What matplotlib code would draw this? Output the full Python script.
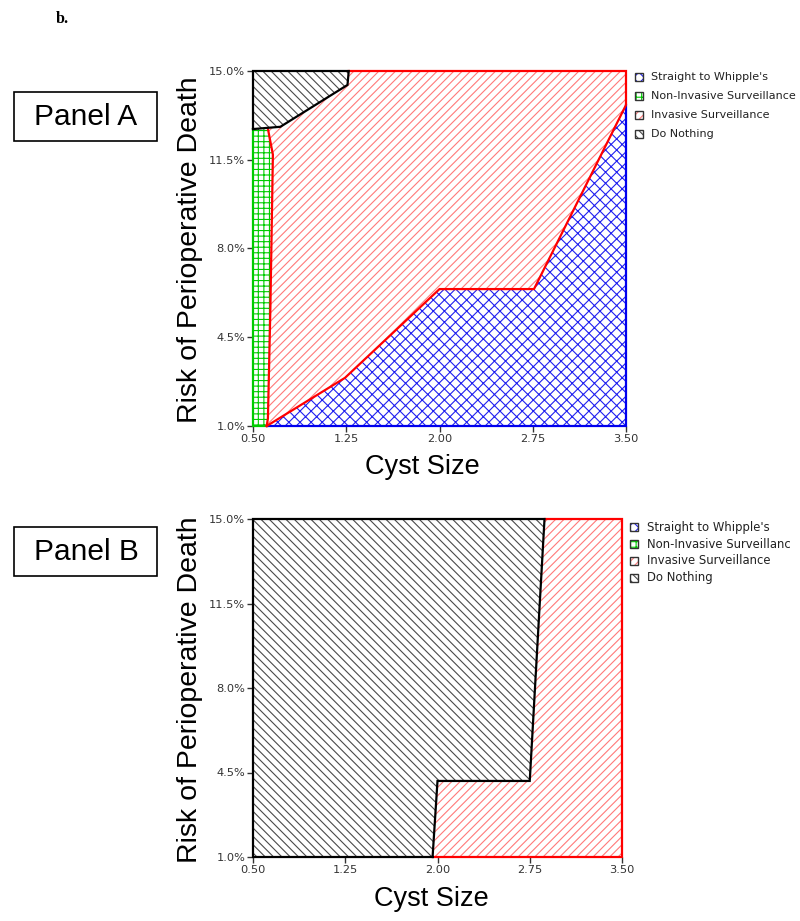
import matplotlib
matplotlib.use("Agg")
import matplotlib.pyplot as plt
from matplotlib.patches import Polygon, Rectangle

# tick positions / labels
x_ticks = [0.50, 1.25, 2.00, 2.75, 3.50]
x_tick_labels = ["0.50", "1.25", "2.00", "2.75", "3.50"]
y_ticks = [1.0, 4.5, 8.0, 11.5, 15.0]
y_tick_labels = ["1.0%", "4.5%", "8.0%", "11.5%", "15.0%"]

legend_labels = ["Straight to Whipple's", "Non-Invasive Surveillance",
                 "Invasive Surveillance", "Do Nothing"]

# Panel A boundaries (cyst size, risk %)
a_whipple_x = [0.61, 1.24, 2.00, 2.76, 3.50]          # blue / red
a_whipple_y = [1.0, 2.9, 6.4, 6.4, 13.66]
a_noninv_x = [0.61, 0.62, 0.64, 0.66, 0.62]            # green / red
a_noninv_y = [1.0, 1.3, 5.7, 11.7, 12.72]
a_nothing_x = [0.50, 0.72, 1.26, 1.27]                 # black / rest
a_nothing_y = [12.71, 12.80, 14.45, 15.0]

# Panel B boundary (do nothing / invasive)
b_nothing_x = [1.96, 2.00, 2.75, 2.87]
b_nothing_y = [1.0, 4.15, 4.15, 15.0]

W, H = 800, 921
plt.rcParams['hatch.linewidth'] = 0.8

fig = plt.figure(figsize=(W / 100, H / 100), dpi=100)

# colours
blue = "#0000ee"
green = "#00cc00"
red_line = "#ff0000"
red_hatch = "#ff7a7a"
black = "#000000"
gray_hatch = "#4a4a4a"
hatches = {"whipple": ("xxx", "#2020f0"), "noninv": ("+++", green),
           "inv": ("////", red_hatch), "nothing": ("\\\\\\\\", gray_hatch)}


def px_axes(l, t, r, b):
    return fig.add_axes([l / W, 1 - b / H, (r - l) / W, (b - t) / H])


def fill(ax, xs, ys, key):
    h, c = hatches[key]
    ax.add_patch(Polygon(list(zip(xs, ys)), closed=True, facecolor="white",
                         edgecolor=c, linewidth=0, hatch=h))


def line(ax, xs, ys, c):
    ax.plot(xs, ys, color=c, linewidth=1.6, clip_on=False, solid_joinstyle="miter")


def setup(ax):
    ax.set_xlim(0.5, 3.5)
    ax.set_ylim(1.0, 15.0)
    for s in ax.spines.values():
        s.set_visible(False)
    ax.set_xticks(x_ticks)
    ax.set_xticklabels(x_tick_labels)
    ax.set_yticks(y_ticks)
    ax.set_yticklabels(y_tick_labels)
    ax.tick_params(length=4, width=1, color="#333333", labelcolor="#333333",
                   labelsize=8.2, pad=1.5)


def legend(l, rows, size, right, gap):
    lax = px_axes(l, rows[0] - 10, right, rows[-1] + 10)
    lax.set_xlim(l, right)
    lax.set_ylim(rows[-1] + 10, rows[0] - 10)
    lax.axis("off")
    keys = ["whipple", "noninv", "inv", "nothing"]
    for yy, key, lab in zip(rows, keys, legend_labels):
        h, c = hatches[key]
        lax.add_patch(Rectangle((l + 1, yy - 4), 8, 8, facecolor="white",
                                edgecolor=c, linewidth=0, hatch=h))
        lax.add_patch(Rectangle((l + 1, yy - 4), 8, 8, fill=False,
                                edgecolor="#333333", linewidth=1))
        t = lax.text(l + gap, yy, lab, fontsize=size, va="center", ha="left",
                     color="#222222")
        t.set_clip_box(lax.bbox)
        t.set_clip_on(True)


def panel_box(t, label):
    fig.add_artist(Rectangle((14 / W, 1 - (t + 49) / H), 143 / W, 49 / H,
                             transform=fig.transFigure, fill=False,
                             edgecolor="black", linewidth=1.2))
    fig.text(86 / W, 1 - (t + 25) / H, label, fontsize=21.5,
             family="Liberation Sans", ha="center", va="center")


# ---------------- Panel A ----------------
ax = px_axes(253, 71, 626, 426)
setup(ax)
inv_x = a_noninv_x + a_nothing_x[1:] + [3.5, 3.5] + a_whipple_x[::-1][1:-1]
inv_y = a_noninv_y + a_nothing_y[1:] + [15.0, 13.66] + a_whipple_y[::-1][1:-1]
fill(ax, inv_x, inv_y, "inv")
fill(ax, a_whipple_x + [3.5], a_whipple_y + [1.0], "whipple")
fill(ax, [0.5] + a_noninv_x + [0.5], [1.0] + a_noninv_y + [12.71], "noninv")
fill(ax, a_nothing_x + [0.5], a_nothing_y + [15.0], "nothing")
line(ax, [a_whipple_x[0], 3.5, 3.5], [1.0, 1.0, a_whipple_y[-1]], blue)
line(ax, [a_noninv_x[0], 0.5, 0.5], [1.0, 1.0, 12.71], green)
line(ax, a_whipple_x + [3.5, a_nothing_x[-1]], a_whipple_y + [15.0, 15.0], red_line)
line(ax, a_noninv_x, a_noninv_y, red_line)
line(ax, a_nothing_x + [0.5, 0.5], a_nothing_y + [15.0, a_nothing_y[0]], black)

legend(634, [77, 96, 115, 134], 8.0, 800, 17)
panel_box(92, "Panel A")
fig.text(422 / W, 1 - 467 / H, "Cyst Size", fontsize=19.5,
         family="Liberation Sans", ha="center", va="center")
fig.text(190 / W, 1 - 250 / H, "Risk of Perioperative Death", fontsize=20.5,
         family="Liberation Sans", ha="center", va="center", rotation=90)

# ---------------- Panel B ----------------
bx = px_axes(253, 519, 622, 857)
setup(bx)
fill(bx, b_nothing_x + [3.5, 3.5], b_nothing_y + [15.0, 1.0], "inv")
fill(bx, b_nothing_x + [0.5, 0.5], b_nothing_y + [15.0, 1.0], "nothing")
line(bx, [b_nothing_x[0], 3.5, 3.5, b_nothing_x[-1]], [1.0, 1.0, 15.0, 15.0], red_line)
line(bx, b_nothing_x + [0.5, 0.5, b_nothing_x[0]], b_nothing_y + [15.0, 1.0, 1.0], black)

legend(629, [527, 544, 561, 578], 8.4, 790, 18)
panel_box(527, "Panel B")
fig.text(431 / W, 1 - 899 / H, "Cyst Size", fontsize=19.5,
         family="Liberation Sans", ha="center", va="center")
fig.text(190 / W, 1 - 690 / H, "Risk of Perioperative Death", fontsize=20.5,
         family="Liberation Sans", ha="center", va="center", rotation=90)

fig.text(62 / W, 1 - 19 / H, "b.", fontsize=11.5, family="Liberation Serif",
         fontweight="bold", ha="center", va="center")

fig.savefig("out.png", dpi=100)
